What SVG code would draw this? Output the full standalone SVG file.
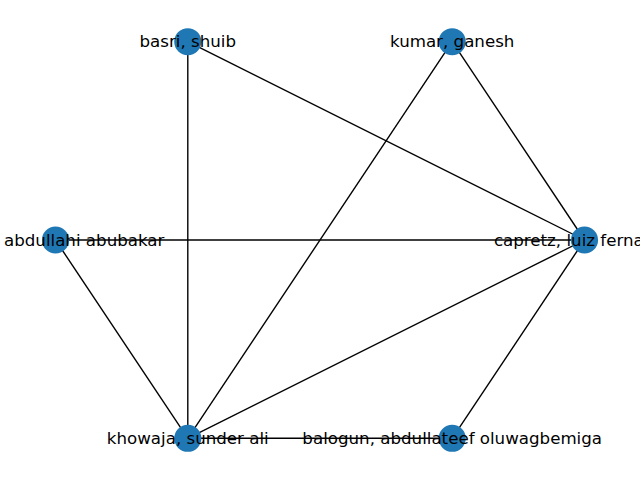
<svg xmlns="http://www.w3.org/2000/svg" width="640" height="480" viewBox="0 0 640 480">
<style>
.e{stroke:#000;stroke-width:1.39;fill:none}
.n{fill:#1f77b4}
.t{font-family:"DejaVu Sans",sans-serif;font-size:16.67px;fill:#000;text-anchor:middle}
</style>
<rect width="640" height="480" fill="#fff"/>
<g id="edges">
<line class="e" x1="187.8" y1="41.7" x2="584.5" y2="240"/>
<line class="e" x1="187.8" y1="41.7" x2="187.8" y2="438.3"/>
<line class="e" x1="452.2" y1="41.7" x2="584.5" y2="240"/>
<line class="e" x1="452.2" y1="41.7" x2="187.8" y2="438.3"/>
<line class="e" x1="55.5" y1="240" x2="584.5" y2="240"/>
<line class="e" x1="55.5" y1="240" x2="187.8" y2="438.3"/>
<line class="e" x1="584.5" y1="240" x2="187.8" y2="438.3"/>
<line class="e" x1="584.5" y1="240" x2="452.2" y2="438.3"/>
<line class="e" x1="187.8" y1="438.3" x2="452.2" y2="438.3"/>
</g>
<g id="capretz"><circle class="n" cx="584.5" cy="240" r="13.57"/></g>
<g id="kumar"><circle class="n" cx="452.2" cy="41.7" r="13.57"/></g>
<g id="basri"><circle class="n" cx="187.8" cy="41.7" r="13.57"/></g>
<g id="abdullahi"><circle class="n" cx="55.5" cy="240" r="13.57"/></g>
<g id="khowaja"><circle class="n" cx="187.8" cy="438.3" r="13.57"/></g>
<g id="balogun"><circle class="n" cx="452.2" cy="438.3" r="13.57"/></g>
<g id="labels">
<text class="t" x="584.5" y="245.6">capretz, luiz fernando</text>
<text class="t" x="452.2" y="47.3">kumar, ganesh</text>
<text class="t" x="187.8" y="47.3">basri, shuib</text>
<text class="t" x="4" y="245.6" style="text-anchor:start">abdullahi abubakar</text>
<text class="t" x="187.8" y="443.9">khowaja, sunder ali</text>
<text class="t" x="452.2" y="443.9">balogun, abdullateef oluwagbemiga</text>
</g>
</svg>
